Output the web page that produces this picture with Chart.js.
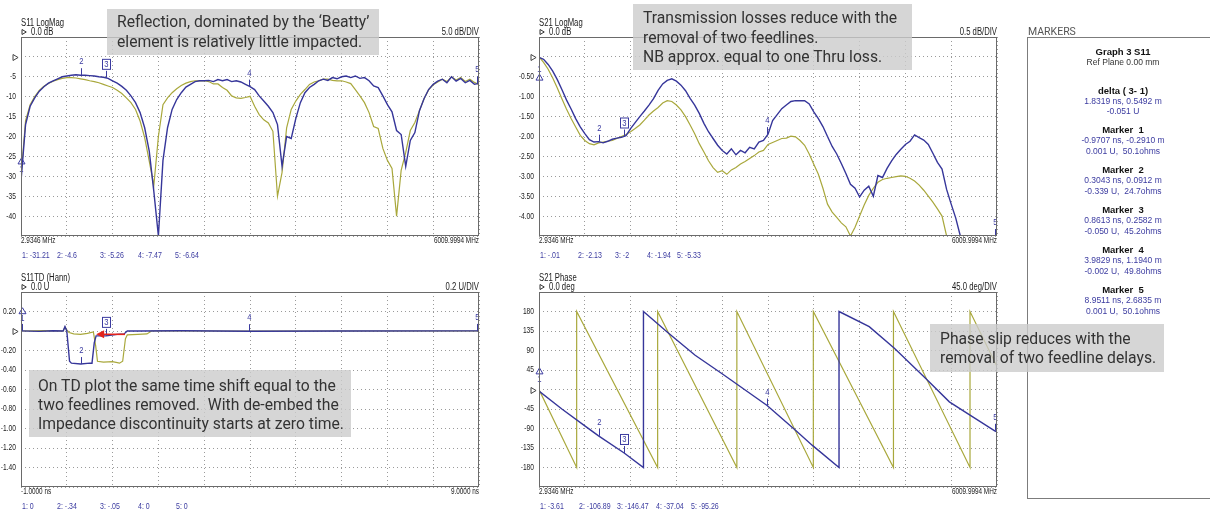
<!DOCTYPE html>
<html>
<head>
<meta charset="utf-8">
<title>S11 / S21 de-embed comparison</title>
<script src="https://cdn.jsdelivr.net/npm/chart.js@4.4.1/dist/chart.umd.min.js"></script>
<style>
  html, body { margin: 0; padding: 0; background: #fff; }
  #page { position: relative; width: 1210px; height: 511px; overflow: hidden; }
  #page canvas { position: absolute; }
  .note {
    position: absolute; box-sizing: border-box; white-space: nowrap;
    background: rgba(204, 204, 204, 0.8); color: #333;
    font-family: Roboto, "Open Sans", sans-serif; font-size: 15.7px;
  }
</style>
</head>
<body>
<div id="page">
  <canvas id="s11Mag" width="500" height="260" style="left:0;top:0"></canvas>
  <canvas id="s21Mag" width="510" height="260" style="left:500px;top:0"></canvas>
  <canvas id="s11Td" width="500" height="251" style="left:0;top:260px"></canvas>
  <canvas id="s21Phase" width="510" height="251" style="left:500px;top:260px"></canvas>
  <canvas id="markers" width="200" height="511" style="left:1010px;top:0"></canvas>

  <div class="note" style="left:107px;top:9px;width:272px;height:46px;padding:3px 0 0 10px;line-height:20px">Reflection, dominated by the ‘Beatty’<br>element is relatively little impacted.</div>
  <div class="note" style="left:633px;top:4px;width:279px;height:66px;padding:4px 0 0 10px;line-height:19.5px">Transmission losses reduce with the<br>removal of two feedlines.<br>NB approx. equal to one Thru loss.</div>
  <div class="note" style="left:29px;top:370px;width:322px;height:67px;padding:6px 0 0 9px;line-height:19.2px">On TD plot the same time shift equal to the<br>two feedlines removed.&nbsp; With de-embed the<br>Impedance discontinuity starts at zero time.</div>
  <div class="note" style="left:930px;top:324px;width:234px;height:48px;padding:6px 0 0 10px;line-height:18.5px">Phase slip reduces with the<br>removal of two feedline delays.</div>
</div>

<script>
// sweep 2.9346 .. 6009.9994 MHz, one point every tenth of a division
const START_MHZ = 2.9346;
const STOP_MHZ = 6009.9994;

const freqMHz = [
  2.9, 63, 123, 183, 243, 303, 363, 424, 484, 544,
  604, 664, 724, 784, 844, 904, 964, 1024, 1084, 1144,
  1204, 1264, 1325, 1385, 1445, 1505, 1565, 1625, 1685, 1745,
  1805, 1865, 1925, 1985, 2045, 2105, 2166, 2226, 2286, 2346,
  2406, 2466, 2526, 2586, 2646, 2706, 2766, 2826, 2887, 2947,
  3007, 3067, 3127, 3187, 3247, 3307, 3367, 3427, 3487, 3547,
  3607, 3667, 3727, 3787, 3848, 3908, 3968, 4028, 4088, 4148,
  4208, 4268, 4328, 4388, 4448, 4508, 4568, 4628, 4688, 4749,
  4809, 4869, 4929, 4989, 5049, 5109, 5169, 5229, 5289, 5349,
  5409, 5469, 5529, 5589, 5650, 5710, 5770, 5830, 5890, 5950,
  6010
];

// S11 LogMag (dB): de-embedded (blue) and with feedlines (olive)
const s11DeembDb = [
  -31.21, -17.0, -12.4, -10.3, -8.6, -7.5, -6.6, -6.0, -5.5, -5.0,
  -4.8, -4.6, -4.5, -4.6, -4.6, -4.7, -4.8, -5.0, -5.1, -5.4,
  -6.0, -6.6, -7.4, -8.4, -9.8, -11.5, -14.0, -17.8, -23.7, -33.8,
  -47.0, -26.0, -17.8, -13.2, -10.7, -9.0, -7.6, -6.9, -6.2, -6.0,
  -6.0, -5.9, -6.2, -5.7, -6.0, -5.7, -6.2, -6.0, -6.3, -6.9,
  -7.47, -8.2, -9.8, -11.1, -12.4, -14.0, -17.0, -27.5, -20.0, -20.5,
  -15.5, -11.5, -9.0, -7.7, -6.9, -6.0, -5.6, -5.9, -5.2, -5.5,
  -5.0, -4.8, -5.2, -4.8, -5.4, -5.2, -6.0, -7.3, -7.7, -9.8,
  -12.0, -13.8, -18.5, -19.5, -27.5, -21.0, -19.0, -13.5, -10.5, -8.2,
  -6.9, -6.1, -5.6, -6.5, -5.0, -6.1, -5.4, -6.5, -5.9, -6.9,
  -6.64
];
const s11RawDb = [
  -30.0, -16.0, -12.0, -10.0, -8.4, -7.4, -6.7, -6.1, -5.7, -5.4,
  -5.2, -5.2, -5.3, -5.5, -5.7, -6.0, -6.2, -6.5, -6.9, -7.3,
  -7.7, -8.4, -9.2, -10.3, -11.5, -13.2, -16.1, -20.3, -26.2, -32.3,
  -20.0, -12.0, -10.3, -9.0, -8.0, -7.2, -6.6, -6.2, -6.0, -6.0,
  -6.0, -6.2, -6.8, -6.8, -7.7, -8.4, -9.8, -10.3, -10.4, -10.2,
  -9.9, -12.4, -14.5, -15.8, -16.6, -18.7, -35.0, -29.0, -17.8, -13.2,
  -11.1, -9.4, -8.2, -6.9, -6.3, -6.0, -5.6, -5.6, -5.9, -6.0,
  -6.0, -6.3, -6.7, -8.2, -9.8, -11.5, -14.0, -17.5, -18.0, -23.0,
  -26.0, -28.0, -40.0, -28.5, -24.0, -18.5, -16.5, -13.5, -10.5, -8.3,
  -7.0, -6.3, -5.6, -6.2, -5.0, -5.8, -5.2, -6.2, -5.6, -6.4,
  -7.0
];

// S21 LogMag (dB)
const s21DeembDb = [
  -0.01, -0.06, -0.19, -0.36, -0.57, -0.82, -1.08, -1.31, -1.55, -1.76,
  -1.93, -2.08, -2.14, -2.13, -2.16, -2.12, -2.07, -2.04, -2.02, -1.98,
  -1.80, -1.65, -1.50, -1.36, -1.21, -1.05, -0.84, -0.68, -0.59, -0.55,
  -0.61, -0.71, -0.85, -1.04, -1.21, -1.42, -1.67, -1.88, -2.05, -2.22,
  -2.35, -2.44, -2.31, -2.46, -2.35, -2.41, -2.27, -2.31, -2.14, -2.10,
  -1.94, -1.60, -1.45, -1.30, -1.21, -1.12, -1.10, -1.10, -1.10, -1.18,
  -1.38, -1.55, -1.75, -2.00, -2.25, -2.44, -2.68, -2.93, -3.20, -3.30,
  -3.52, -3.35, -3.25, -3.50, -2.98, -3.03, -2.80, -2.61, -2.45, -2.32,
  -2.20, -2.12, -1.96, -2.03, -2.09, -2.20, -2.42, -2.65, -2.82, -3.33,
  -3.70, -4.05, -4.55, -4.80, -4.95, -5.05, -5.15, -5.20, -5.25, -5.30,
  -5.33
];
const s21RawDb = [
  0.0, -0.14, -0.31, -0.53, -0.78, -1.05, -1.31, -1.55, -1.76, -1.97,
  -2.10, -2.18, -2.21, -2.16, -2.14, -2.12, -2.10, -2.05, -2.00, -1.95,
  -1.88, -1.80, -1.71, -1.59, -1.46, -1.36, -1.27, -1.16, -1.10, -1.12,
  -1.21, -1.33, -1.50, -1.71, -1.93, -2.18, -2.39, -2.61, -2.78, -2.90,
  -2.86, -2.95, -2.84, -2.78, -2.69, -2.63, -2.55, -2.48, -2.39, -2.35,
  -2.20, -2.15, -2.10, -2.05, -2.04, -1.99, -2.01, -2.10, -2.22, -2.44,
  -2.70, -2.95, -3.30, -3.70, -3.90, -4.03, -4.17, -4.27, -4.50, -4.28,
  -4.00, -3.72, -3.48, -3.30, -3.15, -3.08, -3.05, -3.03, -3.01, -2.99,
  -3.00, -3.05, -3.12, -3.22, -3.35, -3.50, -3.65, -3.82, -4.00, -4.55,
  -4.80, -4.90, -5.00, -5.05, -5.10, -5.15, -5.20, -5.25, -5.30, -5.35,
  -5.40
];

// S21 phase (deg), vertices incl. the +-180 wraps
const phaseDeembMHz = [2.9, 303, 604, 784, 1120, 1373, 1373, 1703, 2051, 2400,
  2995, 3367, 3589, 3938, 3938, 4334, 4664, 5079, 5385, 5692, 5980, 6010];
const phaseDeembDeg = [-3.61, -45, -84, -106.89, -146.47, -180, 180, 130, 79, 37,
  -37.04, -94, -129, -180, 180, 145, 95, 25, -28.5, -63, -95.26, -97.5];
const phaseRawMHz = [2.9, 497, 497, 1559, 1559, 2598, 2598, 3601, 3601, 4652, 4652, 5656, 5656, 6010];
const phaseRawDeg = [0, -180, 180, -180, 180, -180, 180, -180, 180, -180, 180, -180, 180, 53];

// S11 time domain (Hann), U vs ns
const tdDeembNs = [-1.0, -0.6, -0.3, -0.08, -0.04, 0.0, 0.06, 0.1, 0.3043, 0.5, 0.55, 0.6,
  0.64, 0.8613, 1.1, 1.25, 1.32, 1.6, 2.5, 3.9829, 6.0, 8.9511, 9.0];
const tdDeembU = [0.001, -0.004, 0.002, 0.0, 0.045, 0.0, -0.31, -0.33, -0.339, -0.33, -0.33, -0.12,
  -0.05, -0.05, -0.035, -0.03, 0.0, 0.0, 0.003, -0.002, 0.0, 0.001, 0.001];
const tdRawNs = [-1.0, -0.5, -0.08, -0.04, 0.0, 0.05, 0.15, 0.3, 0.45, 0.58, 0.63, 0.67,
  0.8, 1.0, 1.15, 1.22, 1.28, 1.32, 1.55, 1.75, 1.85, 4.0, 9.0];
const tdRawU = [0.0, 0.003, 0.0, 0.04, 0.01, -0.015, -0.03, -0.035, -0.025, -0.01, -0.15, -0.31,
  -0.32, -0.315, -0.33, -0.31, -0.08, -0.04, -0.035, -0.03, 0.0, 0.0, 0.0];

// markers 1..5
const markerMHz = [START_MHZ, 784, 1120, 2995, 5980];
const s11MarkerDb = [-31.21, -4.6, -5.26, -7.47, -6.64];
const s21MarkerDb = [-0.01, -2.13, -2.0, -1.94, -5.33];
const phaseMarkerDeg = [-3.61, -106.89, -146.47, -37.04, -95.26];
const tdMarkerNs = [-0.9707, 0.3043, 0.8613, 3.9829, 8.9511];
const tdMarkerM = [-0.2910, 0.0912, 0.2582, 1.1940, 2.6835];
const tdMarkerU = [0.001, -0.339, -0.050, -0.002, 0.001];
const tdMarkerOhms = [50.1, 24.7, 45.2, 49.8, 50.1];
const deltaLines = ['1.8319 ns, 0.5492 m', '-0.051 U'];

// labelled gridlines (the reference level is shown as a triangle instead)
const s11MagTicks = [-5, -10, -15, -20, -25, -30, -35, -40];
const s21MagTicks = [-0.5, -1.0, -1.5, -2.0, -2.5, -3.0, -3.5, -4.0];
const tdTicks = [0.2, -0.2, -0.4, -0.6, -0.8, -1.0, -1.2, -1.4];
const phaseTicks = [180, 135, 90, 45, -45, -90, -135, -180];

const TRACE_BLUE = '#36369a';
const TRACE_OLIVE = '#a9a83c';
const MARK_BLUE = '#3b3ba0';
const INK = '#202020';
const FONT = '"Liberation Sans", Arial, sans-serif';

const clip = (v, lo, hi) => Math.min(hi, Math.max(lo, v));

function squeeze(ctx, text, x, y, align, font, color, sx) {
  ctx.save();
  ctx.font = font;
  ctx.fillStyle = color;
  ctx.textAlign = align;
  ctx.textBaseline = 'middle';
  ctx.translate(x, y);
  ctx.scale(sx, 1);
  ctx.fillText(text, 0, 0);
  ctx.restore();
}

function triangle(ctx, x, y, dir, size, color) {
  ctx.save();
  ctx.strokeStyle = color;
  ctx.lineWidth = 1;
  ctx.beginPath();
  if (dir === 'right') {
    ctx.moveTo(x, y - size / 2);
    ctx.lineTo(x + size * 0.85, y);
    ctx.lineTo(x, y + size / 2);
  } else {
    ctx.moveTo(x - size / 2, y + size * 0.4);
    ctx.lineTo(x, y - size * 0.45);
    ctx.lineTo(x + size / 2, y + size * 0.4);
  }
  ctx.closePath();
  ctx.stroke();
  ctx.restore();
}

// instrument style readout: 2 decimals, no leading zero
function readout(v) {
  const r = Math.round(v * 100) / 100;
  if (r === 0) return '0';
  return String(r).replace(/^(-?)0\./, '$1.');
}

const vnaDecor = {
  id: 'vnaDecor',
  afterDatasetsDraw(chart, args, o) {
    const { ctx, scales: { x, y } } = chart;

    // marker flags on the blue trace
    o.markerX.forEach((mx, i) => {
      const px = Math.round(x.getPixelForValue(mx)) + 0.5;
      const py = y.getPixelForValue(clip(o.markerY[i], y.min, y.max));
      const n = i + 1;
      const d = n === 1 ? o.m1Dir : -1;
      ctx.save();
      ctx.strokeStyle = MARK_BLUE;
      ctx.lineWidth = 1;
      ctx.beginPath();
      ctx.moveTo(px, py);
      ctx.lineTo(px, py + d * 7);
      ctx.stroke();
      if (n === 1) {
        squeeze(ctx, '1', px, py + d * 12, 'center', '9px ' + FONT, MARK_BLUE, 0.85);
        triangle(ctx, px, py + d * 20, 'up', 7, MARK_BLUE);
      } else if (n === 3) {
        ctx.strokeRect(px - 4, py - 18.5, 8, 10);
        squeeze(ctx, '3', px, py - 13, 'center', '9px ' + FONT, MARK_BLUE, 0.85);
      } else {
        squeeze(ctx, String(n), px, py - 13.5, 'center', '9px ' + FONT, MARK_BLUE, 0.85);
      }
      ctx.restore();
    });

    // arrow showing the time shift between the two steps
    if (o.arrow) {
      const a = o.arrow;
      const x1 = x.getPixelForValue(a.from), x2 = x.getPixelForValue(a.to);
      const yy = y.getPixelForValue(a.level);
      ctx.save();
      ctx.strokeStyle = '#e3241c';
      ctx.fillStyle = '#e3241c';
      ctx.lineWidth = 1.6;
      ctx.beginPath();
      ctx.moveTo(x1, yy);
      ctx.lineTo(x2 + 6, yy);
      ctx.stroke();
      ctx.beginPath();
      ctx.moveTo(x2, yy);
      ctx.lineTo(x2 + 8, yy - 4);
      ctx.lineTo(x2 + 8, yy + 4);
      ctx.closePath();
      ctx.fill();
      ctx.restore();
    }
  },
  afterDraw(chart, args, o) {
    const { ctx, chartArea: a, scales: { y } } = chart;

    ctx.save();
    ctx.strokeStyle = '#6a6a6a';
    ctx.lineWidth = 1;
    ctx.strokeRect(a.left + 0.5, a.top + 0.5, a.width - 1, a.height - 1);
    ctx.restore();

    // y labels and reference level
    o.ticks.forEach(v => {
      squeeze(ctx, v.toFixed(o.decimals), a.left - 5, y.getPixelForValue(v), 'right', '9px ' + FONT, INK, 0.74);
    });
    triangle(ctx, a.left - 8, Math.round(y.getPixelForValue(0)) + 0.5, 'right', 6, '#444');

    // header
    squeeze(ctx, o.title, a.left, a.top - 14, 'left', '10px ' + FONT, INK, 0.77);
    triangle(ctx, a.left + 1, a.top - 5, 'right', 5, '#333');
    squeeze(ctx, o.ref, a.left + 10, a.top - 5, 'left', '10px ' + FONT, INK, 0.77);
    squeeze(ctx, o.perDiv, a.right, a.top - 5, 'right', '10px ' + FONT, INK, 0.77);

    // footer: sweep limits and marker readouts
    squeeze(ctx, o.start, a.left, a.bottom + 5, 'left', '9px ' + FONT, INK, 0.71);
    squeeze(ctx, o.stop, a.right, a.bottom + 5, 'right', '9px ' + FONT, INK, 0.71);
    o.markerY.forEach((v, i) => {
      squeeze(ctx, (i + 1) + ': ' + readout(v), a.left + o.slots[i], a.bottom + 19, 'left', '9.5px ' + FONT, MARK_BLUE, 0.74);
    });
  }
};

function tenDivisions(min, max) {
  return axis => {
    axis.ticks = [];
    for (let i = 0; i <= 10; i++) axis.ticks.push({ value: min + (max - min) * i / 10 });
  };
}

function makePanel(p) {
  const axisBase = {
    type: 'linear',
    ticks: { display: false },
    grid: { color: '#9a9a9a', lineWidth: 1, drawTicks: false },
    border: { display: false, dash: [1, 3] }
  };
  return new Chart(document.getElementById(p.id), {
    type: 'line',
    data: {
      datasets: p.traces.map(t => ({
        data: t.xs.map((xv, i) => ({ x: xv, y: clip(t.ys[i], p.y.min, p.y.max) })),
        borderColor: t.color,
        borderWidth: t.width,
        pointRadius: 0,
        tension: 0,
        fill: false
      }))
    },
    options: {
      responsive: false,
      animation: false,
      events: [],
      layout: { padding: p.pad },
      scales: {
        x: Object.assign({}, axisBase, {
          min: p.x.min, max: p.x.max,
          afterBuildTicks: tenDivisions(p.x.min, p.x.max),
          afterFit: s => { s.height = 0; }
        }),
        y: Object.assign({}, axisBase, {
          min: p.y.min, max: p.y.max,
          afterBuildTicks: tenDivisions(p.y.min, p.y.max),
          afterFit: s => { s.width = p.yWidth; }
        })
      },
      plugins: {
        legend: { display: false },
        tooltip: { enabled: false },
        vnaDecor: p.decor
      }
    },
    plugins: [vnaDecor]
  });
}

makePanel({
  id: 's11Mag', yWidth: 21, pad: { left: 0, top: 37, right: 21, bottom: 24 },
  x: { min: START_MHZ, max: STOP_MHZ }, y: { min: -45, max: 5 },
  traces: [
    { xs: freqMHz, ys: s11DeembDb, color: TRACE_BLUE, width: 1.4 },
    { xs: freqMHz, ys: s11RawDb, color: TRACE_OLIVE, width: 1.2 }
  ],
  decor: {
    title: 'S11 LogMag', ref: '0.0 dB', perDiv: '5.0 dB/DIV',
    start: '2.9346 MHz', stop: '6009.9994 MHz',
    ticks: s11MagTicks, decimals: 0,
    markerX: markerMHz, markerY: s11MarkerDb, m1Dir: -1,
    slots: [1, 36, 79, 117, 154]
  }
});

makePanel({
  id: 's21Mag', yWidth: 39, pad: { left: 0, top: 37, right: 13, bottom: 24 },
  x: { min: START_MHZ, max: STOP_MHZ }, y: { min: -4.5, max: 0.5 },
  traces: [
    { xs: freqMHz, ys: s21DeembDb, color: TRACE_BLUE, width: 1.4 },
    { xs: freqMHz, ys: s21RawDb, color: TRACE_OLIVE, width: 1.2 }
  ],
  decor: {
    title: 'S21 LogMag', ref: '0.0 dB', perDiv: '0.5 dB/DIV',
    start: '2.9346 MHz', stop: '6009.9994 MHz',
    ticks: s21MagTicks, decimals: 2,
    markerX: markerMHz, markerY: s21MarkerDb, m1Dir: 1,
    slots: [1, 39, 76, 108, 138]
  }
});

makePanel({
  id: 's11Td', yWidth: 21, pad: { left: 0, top: 32, right: 21, bottom: 24 },
  x: { min: -1, max: 9 }, y: { min: -1.6, max: 0.4 },
  traces: [
    { xs: tdDeembNs, ys: tdDeembU, color: TRACE_BLUE, width: 1.4 },
    { xs: tdRawNs, ys: tdRawU, color: TRACE_OLIVE, width: 1.2 }
  ],
  decor: {
    title: 'S11TD (Hann)', ref: '0.0 U', perDiv: '0.2 U/DIV',
    start: '-1.0000 ns', stop: '9.0000 ns',
    ticks: tdTicks, decimals: 2,
    markerX: tdMarkerNs, markerY: tdMarkerU, m1Dir: -1,
    slots: [1, 36, 79, 117, 155],
    arrow: { from: 1.27, to: 0.64, level: -0.034 }
  }
});

makePanel({
  id: 's21Phase', yWidth: 39, pad: { left: 0, top: 32, right: 13, bottom: 24 },
  x: { min: START_MHZ, max: STOP_MHZ }, y: { min: -225, max: 225 },
  traces: [
    { xs: phaseDeembMHz, ys: phaseDeembDeg, color: TRACE_BLUE, width: 1.4 },
    { xs: phaseRawMHz, ys: phaseRawDeg, color: TRACE_OLIVE, width: 1.2 }
  ],
  decor: {
    title: 'S21 Phase', ref: '0.0 deg', perDiv: '45.0 deg/DIV',
    start: '2.9346 MHz', stop: '6009.9994 MHz',
    ticks: phaseTicks, decimals: 0,
    markerX: markerMHz, markerY: phaseMarkerDeg, m1Dir: -1,
    slots: [1, 40, 78, 117, 152]
  }
});

// marker list panel on the right
function drawMarkerList() {
  const ctx = document.getElementById('markers').getContext('2d');
  const cx = 113;
  ctx.textBaseline = 'middle';

  ctx.fillStyle = '#555';
  ctx.font = '10.5px Roboto, sans-serif';
  ctx.textAlign = 'left';
  ctx.fillText('MARKERS', 18, 32);

  ctx.strokeStyle = '#7c7c7c';
  ctx.lineWidth = 1;
  ctx.strokeRect(17.5, 37.5, 200, 461);

  ctx.textAlign = 'center';
  const line = (text, y, kind) => {
    ctx.font = (kind === 'head' ? 'bold 9.5px ' : '8.5px ') + FONT;
    ctx.fillStyle = kind === 'value' ? MARK_BLUE : (kind === 'head' ? '#111' : '#333');
    ctx.fillText(text, cx, y);
  };

  line('Graph 3 S11', 52, 'head');
  line('Ref Plane 0.00 mm', 63, 'plain');
  line('delta ( 3- 1)', 91, 'head');
  line(deltaLines[0], 101.5, 'value');
  line(deltaLines[1], 112, 'value');

  tdMarkerNs.forEach((ns, i) => {
    const y0 = 130 + i * 40;
    line('Marker  ' + (i + 1), y0, 'head');
    line(ns.toFixed(4) + ' ns, ' + tdMarkerM[i].toFixed(4) + ' m', y0 + 11, 'value');
    line(tdMarkerU[i].toFixed(3) + ' U,  ' + tdMarkerOhms[i].toFixed(1) + 'ohms', y0 + 22, 'value');
  });
}

drawMarkerList();
</script>
</body>
</html>
